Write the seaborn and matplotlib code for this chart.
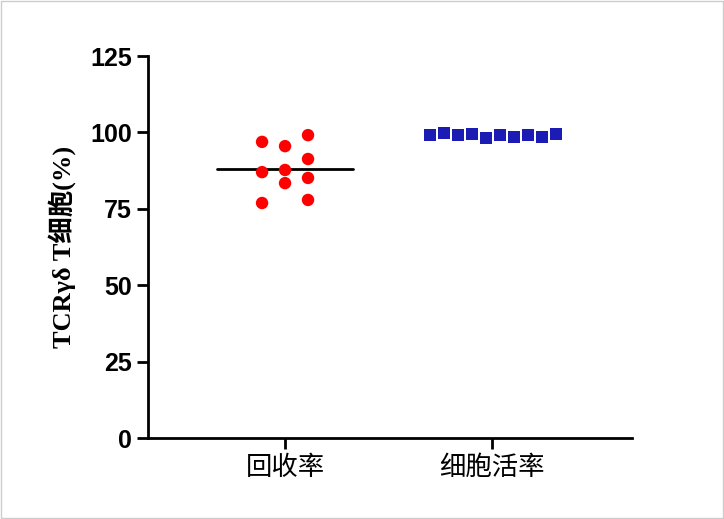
import numpy as np
import pandas as pd
import matplotlib
matplotlib.use("Agg")
import matplotlib.pyplot as plt
import seaborn as sns

categories = ["回收率", "细胞活率"]
recovery = [96.9, 95.5, 99.1, 87.0, 87.7, 91.3, 83.4, 85.1, 76.9, 77.9]
viability = [99.1, 99.8, 99.1, 99.5, 98.2, 99.1, 98.5, 99.1, 98.5, 99.5]
yticks = [0, 25, 50, 75, 100, 125]

sns.set_theme(style="ticks")
plt.rcParams['font.family'] = ['Liberation Sans', 'Noto Sans CJK SC']
plt.rcParams['text.color'] = 'black'
plt.rcParams['axes.labelcolor'] = 'black'
plt.rcParams['xtick.color'] = 'black'
plt.rcParams['ytick.color'] = 'black'
plt.rcParams['axes.edgecolor'] = 'black'

fig = plt.figure(figsize=(7.24, 5.19), dpi=100)
ax = fig.add_axes([148/724, 1-438/519, 484/724, 382/519])

red_cols = np.array([-1, 0, 1, -1, 0, 1, 0, 1, -1, 1]) * 0.111
blue_off = np.linspace(-0.30, 0.31, len(viability))
df = pd.DataFrame({
    "x": np.concatenate([0 + red_cols, 1 + blue_off]),
    "y": recovery + viability,
    "g": [categories[0]] * len(recovery) + [categories[1]] * len(viability),
})
sns.scatterplot(data=df, x="x", y="y", hue="g", style="g",
                palette={categories[0]: "#ff0000", categories[1]: "#1c1cb4"},
                markers={categories[0]: "o", categories[1]: "s"},
                s=80, edgecolor="none", legend=False, ax=ax, zorder=3)
m = np.mean(recovery)
ax.plot([-0.33, 0.33], [m, m], color="black", lw=2, zorder=1)

ax.set_xlim(-0.662, 1.676)
ax.set_ylim(0, 125)
ax.set_yticks(yticks)
ax.set_xticks([0, 1])
ax.set_xticklabels(categories, fontsize=19, family=['Noto Sans CJK SC'])
ax.set_yticklabels([str(t) for t in yticks], fontsize=18, fontweight='bold')
ax.set_xlabel("")
ax.set_ylabel("TCRγδ T细胞(%)", fontsize=19, fontweight='bold',
              family=['Liberation Serif', 'Noto Sans CJK SC'], labelpad=10)
for s in ["top", "right"]:
    ax.spines[s].set_visible(False)
for s in ["left", "bottom"]:
    ax.spines[s].set_linewidth(2)
ax.tick_params(width=2, length=8, direction="out")

fig.patches.append(plt.Rectangle((0.001, 0.001), 0.998, 0.998, transform=fig.transFigure,
                                 fill=False, edgecolor="#cccccc", lw=1))
fig.savefig("out.png", dpi=100)
